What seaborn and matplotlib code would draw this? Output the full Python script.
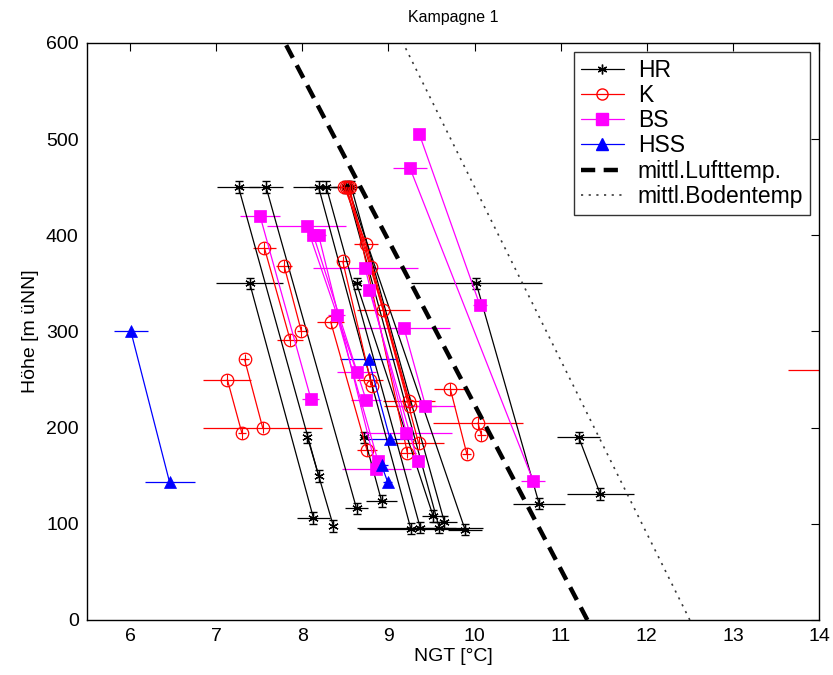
import numpy as np
import pandas as pd
import seaborn as sns
import matplotlib
matplotlib.use("Agg")
import matplotlib.pyplot as plt
from matplotlib.lines import Line2D

# --- measured station pairs: segment id, NGT [°C], height [m], x error ---
hr_seg = [1, 1, 2, 2, 3, 3, 4, 4, 5, 5, 6, 6, 7, 7, 8, 8, 9, 9, 10, 10, 11, 11, 12, 12, 13, 13]
hr_x = [7.26, 8.19, 7.58, 8.63, 7.39, 8.13, 8.19, 9.26, 8.28, 9.37, 8.51, 9.59,
        8.53, 9.89, 8.57, 9.65, 8.63, 9.52, 8.72, 8.92, 8.06, 8.36, 10.02, 10.75,
        11.21, 11.46]
hr_h = [450, 150, 450, 116, 350, 106, 450, 95, 450, 96, 450, 96,
        450, 94, 450, 102, 350, 108, 190, 124, 190, 98, 350, 121,
        190, 131]
hr_xerr = [0.25, 0.0, 0.2, 0.13, 0.39, 0.19, 0.3, 0.6, 0.2, 0.73, 0.15, 0.2,
           0.1, 0.2, 0.1, 0.15, 0.05, 0.13, 0.05, 0.18, 0.0, 0.0, 0.76, 0.3,
           0.25, 0.39]

k_seg = [1, 1, 1, 2, 2, 2, 3, 3, 3, 4, 4, 4, 5, 5, 6, 6, 7, 7, 8, 8, 9, 9,
         10, 10, 11, 11, 12, 12, 13]
k_x = [8.49, 8.74, 9.24, 8.53, 8.80, 9.25, 8.51, 8.94, 9.35, 8.47, 8.79, 8.81,
       8.33, 8.75, 7.56, 7.86, 7.79, 7.99, 7.33, 7.54, 7.13, 7.30,
       9.72, 9.91, 10.04, 10.08, 8.55, 9.22, 14.30]
k_h = [450, 391, 228, 450, 367, 223, 450, 322, 184, 373, 250, 243,
       310, 177, 387, 291, 368, 300, 271, 200, 250, 194,
       240, 173, 205, 192, 450, 174, 260]
k_xerr = [0.05, 0.145, 0.3, 0.05, 0.05, 0.3, 0.05, 0.31, 0.3, 0.07, 0.15, 0.05,
          0.16, 0.12, 0.13, 0.15, 0.09, 0.05, 0.05, 0.69, 0.28, 0.05,
          0.19, 0.05, 0.52, 0.05, 0.05, 0.1, 0.66]

bs_seg = [1, 1, 2, 2, 3, 3, 4, 4, 5, 5, 6, 6, 7, 7, 8, 8, 9, 9, 10, 10]
bs_x = [9.36, 10.06, 9.25, 10.68, 7.51, 8.10, 8.05, 8.63, 8.13, 8.74,
        8.19, 8.86, 8.40, 8.88, 8.73, 9.21, 8.78, 9.34, 9.18, 9.43]
bs_h = [505, 328, 470, 145, 420, 230, 410, 258, 400, 229,
        400, 157, 317, 165, 366, 194, 343, 165, 304, 223]
bs_xerr = [0.0, 0.08, 0.2, 0.14, 0.23, 0.1, 0.46, 0.23, 0.08, 0.17,
           0.08, 0.4, 0.1, 0.05, 0.61, 0.53, 0.05, 0.05, 0.54, 0.34]

hss_seg = [1, 1, 2, 2, 3, 3]
hss_x = [6.01, 6.46, 8.77, 9.02, 8.92, 8.99]
hss_h = [300, 143, 271, 188, 161, 144]
hss_xerr = [0.2, 0.29, 0.33, 0.29, 0.08, 0.05]

# mean air / soil temperature profiles
mean_h = [0, 600]
luft_t = [11.31, 7.80]
boden_t = [12.50, 9.17]

LUFT_STYLE = dict(color="black", linewidth=3.2, linestyle=(0, (3.2, 1.9)))
BODEN_STYLE = dict(color="#3a3a3a", linewidth=1.2, linestyle=(0, (1.3, 3.3)))

series = [
    ("HR", hr_seg, hr_x, hr_h, hr_xerr, "black",
     dict(marker=(6, 2, 0), markersize=7.5, markeredgewidth=0.9, mfc="black", mec="black")),
    ("K", k_seg, k_x, k_h, k_xerr, "red",
     dict(marker="o", markersize=9, markeredgewidth=0.9, mfc="none", mec="red")),
    ("BS", bs_seg, bs_x, bs_h, bs_xerr, "magenta",
     dict(marker="s", markersize=8.5, markeredgewidth=0.5, mfc="magenta", mec="magenta")),
    ("HSS", hss_seg, hss_x, hss_h, hss_xerr, "blue",
     dict(marker="^", markersize=9, markeredgewidth=0.5, mfc="blue", mec="blue")),
]

sns.set_theme(style="white")
plt.rcParams["font.family"] = ["Liberation Sans", "DejaVu Sans"]
plt.rcParams["text.color"] = "black"
plt.rcParams["axes.labelcolor"] = "black"
plt.rcParams["xtick.color"] = "black"
plt.rcParams["ytick.color"] = "black"

fig = plt.figure(figsize=(8.33, 6.75), dpi=100)
ax = fig.add_axes([0.1044, 0.0815, 0.8788, 0.8548])

for name, seg, xs, hs, xe, col, mk in series:
    df = pd.DataFrame({"seg": seg, "T": xs, "h": hs})
    ax.errorbar(xs, hs, xerr=xe, fmt="none", ecolor=col, elinewidth=0.9, capsize=0, zorder=2)
    if name == "HR":
        ax.errorbar(xs, hs, yerr=6, fmt="none", ecolor=col, elinewidth=0.8, capsize=3, zorder=2)
    elif name == "K":
        ax.errorbar(xs, hs, yerr=6, fmt="none", ecolor=col, elinewidth=0.8, capsize=0, zorder=2)
    sns.lineplot(data=df, x="T", y="h", units="seg", estimator=None, sort=False,
                 color=col, linewidth=0.9, ax=ax, legend=False, zorder=3, **mk)

mean_df = pd.DataFrame({"h": mean_h + mean_h,
                        "T": luft_t + boden_t,
                        "kind": ["luft"] * 2 + ["boden"] * 2})
sns.lineplot(data=mean_df[mean_df.kind == "luft"], x="T", y="h", sort=False,
             estimator=None, ax=ax, legend=False, zorder=4, **LUFT_STYLE)
sns.lineplot(data=mean_df[mean_df.kind == "boden"], x="T", y="h", sort=False,
             estimator=None, ax=ax, legend=False, zorder=4, **BODEN_STYLE)

ax.set_xlim(5.5, 14)
ax.set_ylim(0, 600)
ax.set_xticks(np.arange(6, 15, 1))
ax.set_yticks(np.arange(0, 601, 100))
ax.tick_params(direction="in", length=6, width=0.8, top=True, right=True,
               labelsize=14, pad=6)
for sp in ax.spines.values():
    sp.set_color("black")
    sp.set_linewidth(1.0)
ax.set_xlabel("NGT [°C]", fontsize=14, labelpad=2)
ax.set_ylabel("Höhe [m üNN]", fontsize=14, labelpad=5)
ax.set_title("Kampagne 1", fontsize=11.5, pad=15)

handles = [
    Line2D([], [], color="black", lw=0.9, marker=(6, 2, 0), markersize=7, mfc="black"),
    Line2D([], [], color="red", lw=0.9, marker="o", markersize=8, mfc="none", mec="red"),
    Line2D([], [], color="magenta", lw=0.9, marker="s", markersize=8, mfc="magenta"),
    Line2D([], [], color="blue", lw=0.9, marker="^", markersize=8, mfc="blue"),
    Line2D([], [], **LUFT_STYLE),
    Line2D([], [], **BODEN_STYLE),
]
labels = ["HR", "K", "BS", "HSS", "mittl.Lufttemp.", "mittl.Bodentemp"]
leg = ax.legend(handles, labels, loc="upper right", bbox_to_anchor=(0.988, 0.985),
                borderaxespad=0, fontsize=16.5, frameon=True, fancybox=False,
                edgecolor="black", handlelength=1.9, handletextpad=0.6,
                labelspacing=0.1, borderpad=0.3)
leg.get_frame().set_linewidth(1.0)

fig.savefig("out.png", dpi=100, facecolor="white")
